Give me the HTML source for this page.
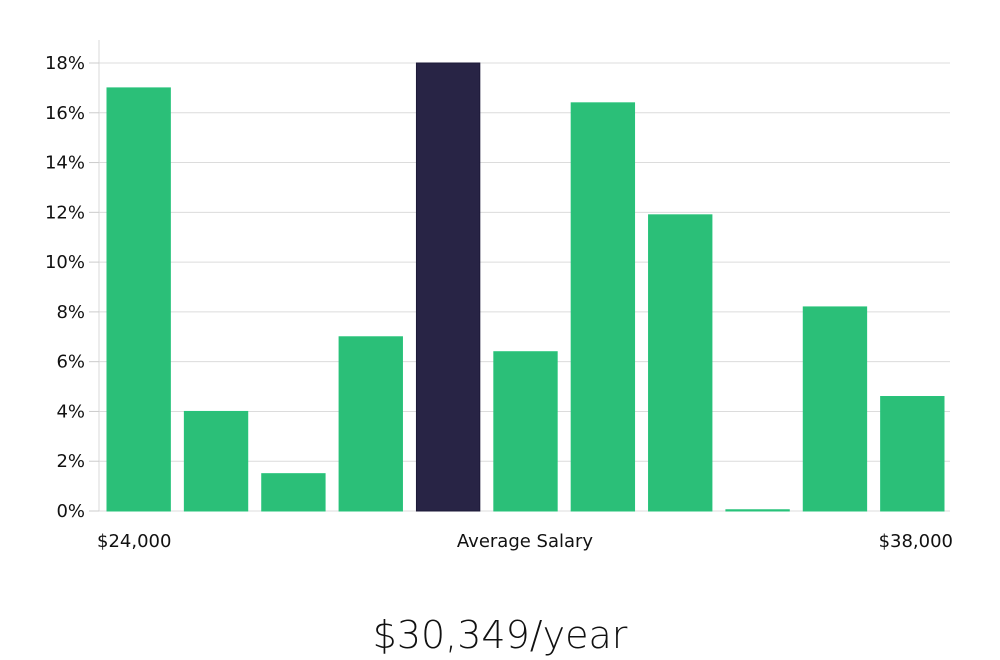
<!DOCTYPE html>
<html><head><meta charset="utf-8"><style>
body{margin:0;background:#fff;width:1000px;height:660px;overflow:hidden}
svg{display:block}
text{font-family:"DejaVu Sans","Liberation Sans",sans-serif}
</style></head><body>
<svg id="chart" width="1000" height="660">
<g id="grid"></g><g id="bars"></g><g id="yaxis"></g>
<text x="97" y="547" font-size="18" fill="#111">$24,000</text>
<text x="525" y="547" font-size="18" fill="#111" text-anchor="middle">Average Salary</text>
<text x="953" y="547" font-size="18" fill="#111" text-anchor="end">$38,000</text>
<text x="500" y="648" font-size="38" fill="#111" text-anchor="middle" font-family="'Liberation Sans',sans-serif" style="font-weight:300">$30,349/year</text>
</svg>
<script>
const categories=["b1","b2","b3","b4","b5","b6","b7","b8","b9","b10","b11"];
const values=[17,4,1.5,7,18,6.4,16.4,11.9,0.05,8.2,4.6];
const highlightIndex=4;
const yTicks=[0,2,4,6,8,10,12,14,16,18];
const NS="http://www.w3.org/2000/svg";
const x0=99,x1=950,y0=511,yTop=63,yMaxV=18;
const y=v=>y0-(v/yMaxV)*(y0-yTop);
const band=(x1-x0)/categories.length;
const mk=(t,a,p)=>{const e=document.createElementNS(NS,t);for(const k in a)e.setAttribute(k,a[k]);p.appendChild(e);return e;};
const grid=document.getElementById('grid'),bars=document.getElementById('bars'),ya=document.getElementById('yaxis');
const ax=mk('line',{x1:x0,x2:x0,y1:40,y2:y0,stroke:'#d8d8d8','stroke-width':1},ya);


yTicks.forEach(t=>{
 const g=mk('line',{x1:x0,x2:x1,y1:y(t),y2:y(t),stroke:'#dcdcdc','stroke-width':1},grid);
 
 
 const tk=mk('line',{x1:89,x2:x0,y1:y(t),y2:y(t),stroke:'#ccc','stroke-width':1},ya);
 
 
 const l=mk('text',{x:85,y:y(t)+6,'font-size':18,fill:'#111','text-anchor':'end'},ya);
 l.textContent=t+'%';
 
 
});
values.forEach((v,i)=>{
 const bx=x0+i*band+8,w=band-14;
 const hi=i===highlightIndex;
 const r=mk('rect',{x:bx,y:y(v),width:w,height:Math.max(1,y0-y(v)),fill:hi?'#282445':'#2bbf78',stroke:hi?'#1d1a38':'#27c37a','stroke-width':1},bars);
 
 
});
</script>
</body></html>
